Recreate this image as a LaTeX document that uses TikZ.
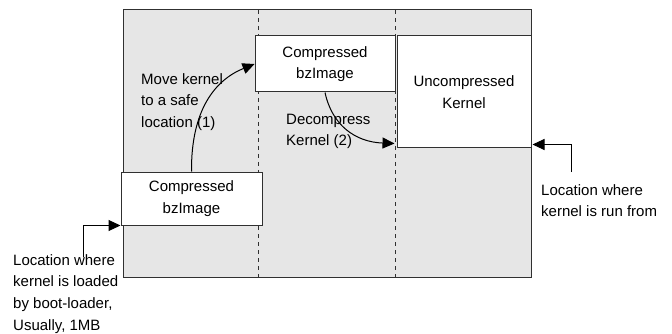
\documentclass[tikz,border=0pt]{standalone}
\usepackage{fontspec}
\setmainfont{Liberation Sans}
\usetikzlibrary{arrows.meta,positioning,calc}
\definecolor{memgray}{HTML}{E6E6E6}
\definecolor{edge}{HTML}{303030}
\begin{document}
\begin{tikzpicture}[x=1pt,y=-1pt,>={Triangle[length=12pt,width=11pt]},
  font=\fontsize{15}{21.7}\selectfont,
  blk/.style={draw=edge,fill=white,line width=1pt,align=center,inner sep=0pt},
  note/.style={align=left,inner sep=0pt,anchor=north west}]
 \useasboundingbox (0,0) rectangle (672,334);
 \draw[fill=memgray,draw=edge,line width=1pt] (123,10) rectangle (531,277);
 \foreach \x in {258,395}
  \draw[edge,line width=1pt,dash pattern=on 4pt off 4pt] (\x,10)--(\x,277);
 \node[blk,minimum width=141pt,minimum height=53pt] (zlow) at (191.5,198.5) {Compressed\\bzImage};
 \node[blk,minimum width=140pt,minimum height=56pt] (zhigh) at (325,64) {Compressed\\bzImage};
 \node[blk,minimum width=134pt,minimum height=112pt] (zrun) at (464,92) {Uncompressed\\Kernel};
 \node[note] (lmove) at (141,73) {Move kernel\\to a safe\\location (1)};
 \node[note] (ldecomp) at (286,113.5) {Decompress\\Kernel (2)};
 \node[note] (lload) at (13,254) {Location where\\kernel is loaded\\by boot-loader,\\Usually, 1MB};
 \node[note] (lrun) at (541,184) {Location where\\kernel is run from};
 \coordinate (pload) at (83,257);
 \coordinate (prun) at (571,172);
 \draw[->,line width=1pt] (zlow.north) .. controls (191,110) and (215,80) .. (zhigh.west);
 \draw[->,line width=1pt] (zhigh.south) .. controls (332,125) and (355,142) .. ($(zrun.south west)+(-2,-5)$);
 \draw[->,line width=1pt] (pload) |- (zlow.south west);
 \draw[->,line width=1pt] (prun) |- ($(zrun.south east)+(1,-4)$);
\end{tikzpicture}
\end{document}
